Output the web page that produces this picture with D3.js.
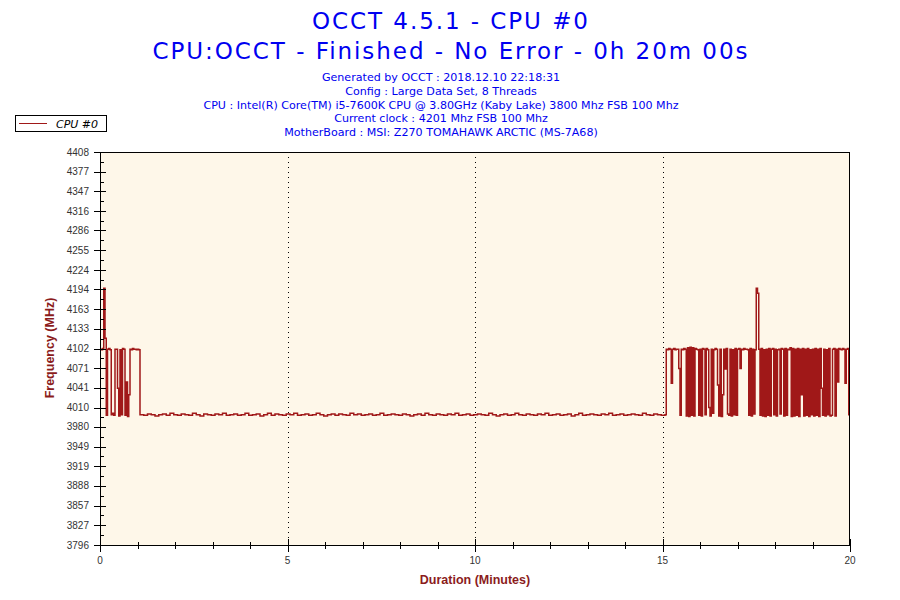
<!DOCTYPE html>
<html>
<head>
<meta charset="utf-8">
<script src="https://cdn.jsdelivr.net/npm/d3@7"></script>
<style>
  html, body { margin: 0; padding: 0; background: #fff; }
  svg { display: block; }
</style>
</head>
<body>
<svg id="chart" width="900" height="600"></svg>
<script>
// OCCT frequency log, CPU #0, 20 minute run. Values in MHz.
const titleLines = ['OCCT 4.5.1 - CPU #0', 'CPU:OCCT - Finished - No Error - 0h 20m 00s'];
const infoLines = [
  'Generated by OCCT : 2018.12.10 22:18:31',
  'Config : Large Data Set, 8 Threads',
  'CPU : Intel(R) Core(TM) i5-7600K CPU @ 3.80GHz (Kaby Lake) 3800 Mhz FSB 100 Mhz',
  'Current clock : 4201 Mhz FSB 100 Mhz',
  'MotherBoard : MSI: Z270 TOMAHAWK ARCTIC (MS-7A68)'
];
const seriesName = 'CPU #0';
const yTickLabels = [3796, 3827, 3857, 3888, 3919, 3949, 3980, 4010, 4041, 4071, 4102,
  4133, 4163, 4194, 4224, 4255, 4286, 4316, 4347, 4377, 4408];
const xTickLabels = [0, 5, 10, 15, 20];   // minutes
const xGridLines = [5, 10, 15];

// start of the run, one sample every 2 s from t = 0 s
const bootStart = 0, bootStep = 2;
const bootValues = [4101, 4100, 4102, 4196, 4118, 3998, 4101, 4102, 4100, 3999,
  4001, 3998, 4101, 4101, 4040, 3997, 4100, 3999, 4102, 4101,
  3998, 4050, 3996, 4030, 4101, 4100, 4102, 4101, 4101, 4100,
  4101, 4100];

// idle stretch, one sample every 6 s from t = 64 s
const idleStart = 64, idleStep = 6;
const idleValues = [3999, 3998, 4000, 3999, 3997, 3999, 4000, 3998, 4001, 3999,
  3998, 4000, 3999, 3998, 4001, 3999, 3997, 4000, 3999, 3998,
  4000, 3999, 4001, 3998, 3999, 4000, 3998, 3999, 4001, 3998,
  3999, 4000, 3997, 3999, 4001, 3998, 4000, 3999, 3998, 4000,
  3999, 4001, 3998, 3999, 4000, 3998, 3999, 4001, 3999, 3997,
  3999, 4000, 3998, 4000, 3999, 3998, 4001, 3999, 4000, 3998,
  3999, 4000, 3998, 3999, 4001, 3998, 3999, 4000, 3999, 3998,
  4000, 3999, 3997, 3999, 4000, 3998, 4001, 3999, 3998, 4000,
  3999, 3998, 4000, 3999, 4001, 3998, 3999, 4000, 3998, 3999,
  4000, 3999, 3998, 4001, 3999, 3997, 3999, 4000, 3998, 3999,
  4001, 3999, 3998, 4000, 3999, 3998, 4000, 3999, 4001, 3998,
  3999, 4000, 3998, 3999, 4000, 3997, 3999, 4001, 3998, 3999,
  4000, 3999, 3998, 4000, 3999, 4001, 3998, 3999, 4000, 3998,
  3999, 4000, 3999, 3998, 4001, 3999, 3998, 4000, 3999, 3998,
  3999];

// load phase, one sample every 2 s from t = 906 s
const loadStart = 906, loadStep = 2;
const loadValues = [4101, 4100, 4102, 4101, 4048, 4101, 4102, 4100, 4101, 4101,
  4071, 3998, 4101, 4100, 4102, 4101, 3997, 4103, 3996, 4104,
  3998, 4103, 3997, 4102, 4101, 4100, 3998, 4101, 3997, 4102,
  4101, 3999, 4102, 4100, 4010, 3997, 4101, 4001, 4100, 4102,
  4101, 4045, 3997, 4101, 3996, 4030, 4101, 4070, 4102, 4000,
  3998, 4101, 3997, 4100, 3999, 4102, 3998, 4101, 4102, 4071,
  4101, 4100, 4102, 4101, 4101, 4100, 3998, 4102, 3997, 4101,
  4000, 4100, 4196, 4188, 4101, 3998, 4102, 3997, 4100, 3996,
  4101, 3998, 4102, 3997, 4101, 4102, 3999, 4101, 3997, 4100,
  4101, 4000, 4102, 4101, 3997, 4102, 3998, 4101, 4100, 4103,
  3996, 4102, 3997, 4101, 3998, 4102, 3996, 4101, 4030, 4102,
  3997, 4101, 3998, 4102, 3996, 4100, 3999, 4101, 3997, 4102,
  3998, 4101, 3996, 4102, 4040, 3998, 4101, 3997, 4100, 3999,
  4102, 3997, 3998, 4101, 4102, 3997, 4101, 4050, 4102, 4101,
  4100, 4102, 4101, 4048, 4101, 4102, 3999, 4101];

const toPoints = (start, step, vals) => vals.map((v, i) => ({ t: (start + i * step) / 60, v }));
const points = [].concat(
  toPoints(bootStart, bootStep, bootValues),
  toPoints(idleStart, idleStep, idleValues),
  toPoints(loadStart, loadStep, loadValues)
);

const svg = d3.select('#chart');
const pLeft = 100, pRight = 850, pTop = 152, pBottom = 545;
const x = d3.scaleLinear().domain([0, 20]).range([pLeft, pRight]);
const y = d3.scaleLinear().domain([3796, 4408]).range([pBottom, pTop]);

const blue = '#0000f0', lineRed = '#a01818', titleRed = '#8b1c1c';
const titleWidths = [276, 595];

// titles
svg.selectAll('text.title').data(titleLines).enter().append('text')
  .attr('x', 450).attr('y', (d, i) => 29 + i * 30)
  .attr('text-anchor', 'middle').attr('font-family', 'DejaVu Sans').attr('font-size', 23)
  .attr('textLength', (d, i) => titleWidths[i]).attr('lengthAdjust', 'spacing')
  .attr('fill', blue).text(d => d);
svg.selectAll('text.info').data(infoLines).enter().append('text')
  .attr('x', 441).attr('y', (d, i) => 81 + i * 13.8)
  .attr('text-anchor', 'middle').attr('font-family', 'DejaVu Sans').attr('font-size', 11.1)
  .attr('fill', blue).text(d => d);

// legend
const lg = svg.append('g');
lg.append('rect').attr('x', 15.5).attr('y', 115.5).attr('width', 91).attr('height', 16)
  .attr('fill', '#fff').attr('stroke', '#000');
lg.append('line').attr('x1', 19).attr('x2', 47).attr('y1', 123.5).attr('y2', 123.5)
  .attr('stroke', lineRed).attr('stroke-width', 1);
lg.append('text').attr('x', 56).attr('y', 127.5).attr('font-family', 'DejaVu Sans')
  .attr('font-style', 'italic').attr('font-size', 11).attr('fill', '#000').text(seriesName);

// plot background
svg.append('rect').attr('x', pLeft).attr('y', pTop).attr('width', pRight - pLeft).attr('height', pBottom - pTop)
  .attr('fill', '#fef7e9');

// dotted grid
svg.selectAll('line.grid').data(xGridLines).enter().append('line')
  .attr('x1', d => Math.round(x(d)) + 0.5).attr('x2', d => Math.round(x(d)) + 0.5)
  .attr('y1', pTop).attr('y2', pBottom)
  .attr('stroke', '#000').attr('stroke-dasharray', '1,4');

// series: the logger holds each reading until the next one
svg.append('clipPath').attr('id', 'clip').append('rect')
  .attr('x', pLeft).attr('y', pTop).attr('width', pRight - pLeft).attr('height', pBottom - pTop);
const line = d3.line().curve(d3.curveStepAfter).x(d => x(d.t)).y(d => y(d.v));
svg.append('path').datum(points).attr('d', line).attr('clip-path', 'url(#clip)')
  .attr('fill', 'none').attr('stroke', lineRed).attr('stroke-width', 1.5)
  .attr('stroke-linejoin', 'miter');

// frame
svg.append('rect').attr('x', pLeft + 0.5).attr('y', pTop + 0.5)
  .attr('width', pRight - pLeft - 1).attr('height', pBottom - pTop)
  .attr('fill', 'none').attr('stroke', '#000');

// y axis ticks
const yMinor = yTickLabels.slice(1).map((v, i) => (v + yTickLabels[i]) / 2);
svg.selectAll('line.ymaj').data(yTickLabels).enter().append('line')
  .attr('x1', pLeft - 6).attr('x2', pLeft + 6)
  .attr('y1', d => Math.round(y(d)) + 0.5).attr('y2', d => Math.round(y(d)) + 0.5)
  .attr('stroke', '#000');
svg.selectAll('line.ymin').data(yMinor).enter().append('line')
  .attr('x1', pLeft).attr('x2', pLeft + 4)
  .attr('y1', d => Math.round(y(d)) + 0.5).attr('y2', d => Math.round(y(d)) + 0.5)
  .attr('stroke', '#000');
svg.selectAll('text.ylab').data(yTickLabels).enter().append('text')
  .attr('x', 89).attr('y', d => y(d) + 3.5).attr('text-anchor', 'end')
  .attr('font-family', 'Liberation Sans').attr('font-size', 10).attr('fill', '#333')
  .text(d => d);

// x axis ticks
const xMinor = d3.range(0, 21).filter(m => m % 5 !== 0);
svg.selectAll('line.xmaj').data(xTickLabels).enter().append('line')
  .attr('x1', d => Math.round(x(d)) + 0.5).attr('x2', d => Math.round(x(d)) + 0.5)
  .attr('y1', pBottom - 6).attr('y2', pBottom + 7).attr('stroke', '#000');
svg.selectAll('line.xmin').data(xMinor).enter().append('line')
  .attr('x1', d => Math.round(x(d)) + 0.5).attr('x2', d => Math.round(x(d)) + 0.5)
  .attr('y1', pBottom - 3).attr('y2', pBottom + 4).attr('stroke', '#000');
svg.selectAll('text.xlab').data(xTickLabels).enter().append('text')
  .attr('x', d => x(d)).attr('y', 564).attr('text-anchor', 'middle')
  .attr('font-family', 'Liberation Sans').attr('font-size', 10).attr('fill', '#333')
  .text(d => d);

// axis titles
svg.append('text').attr('transform', 'translate(54,348) rotate(-90)')
  .attr('text-anchor', 'middle').attr('font-family', 'Liberation Sans').attr('font-weight', 'bold')
  .attr('font-size', 12.5).attr('fill', titleRed).text('Frequency (MHz)');
svg.append('text').attr('x', 475).attr('y', 584)
  .attr('text-anchor', 'middle').attr('font-family', 'Liberation Sans').attr('font-weight', 'bold')
  .attr('font-size', 12.5).attr('fill', titleRed).text('Duration (Minutes)');
</script>
</body>
</html>
